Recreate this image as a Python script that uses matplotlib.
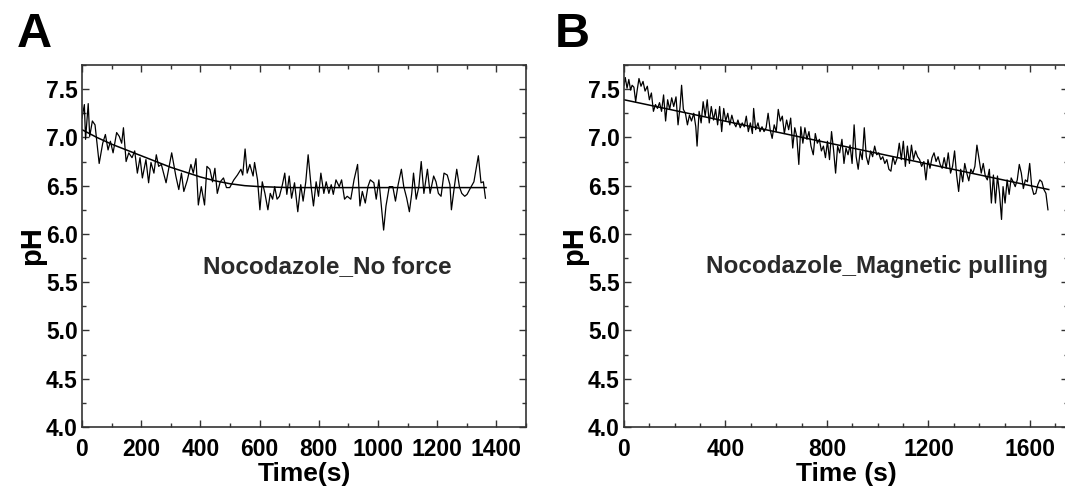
import matplotlib
matplotlib.use("Agg")
import matplotlib.pyplot as plt
from matplotlib.ticker import MultipleLocator

plt.rcParams['font.family'] = ['Liberation Sans', 'DejaVu Sans']
plt.rcParams['font.weight'] = 'bold'

# Panel A: Nocodazole, no force
t_a = [0, 8, 12, 21, 26, 35, 44, 58, 70, 79, 88, 96, 105, 117, 126, 134, 140, 149,
       158, 169, 178, 187, 196, 204, 216, 225, 233, 243, 251, 259, 268, 284, 303,
       317, 327, 336, 344, 356, 368, 376, 385, 393, 403, 414, 422, 432, 441, 449,
       457, 467, 478, 488, 499, 513, 525, 537, 543, 551, 558, 567, 578, 583, 593,
       601, 609, 618, 628, 636, 644, 651, 659, 667, 677, 685, 692, 700, 708, 718,
       729, 739, 747, 756, 764, 774, 782, 791, 799, 807, 817, 825, 834, 842, 849,
       858, 869, 877, 887, 896, 908, 919, 931, 939, 947, 957, 966, 974, 986, 994,
       1003, 1013, 1019, 1027, 1038, 1050, 1059, 1068, 1079, 1087, 1097, 1106,
       1114, 1120, 1129, 1138, 1146, 1155, 1167, 1176, 1188, 1196, 1204, 1213,
       1223, 1234, 1243, 1248, 1258, 1266, 1275, 1283, 1293, 1301, 1313, 1324,
       1339, 1348, 1356, 1363]
ph_a = [7.20, 7.34, 6.98, 7.35, 7.01, 7.17, 7.13, 6.73, 6.94, 7.03, 6.87, 6.96,
        6.84, 7.05, 7.01, 6.94, 7.10, 6.75, 6.84, 6.79, 6.86, 6.63, 6.79, 6.58,
        6.77, 6.53, 6.74, 6.63, 6.82, 6.70, 6.72, 6.53, 6.84, 6.60, 6.46, 6.63,
        6.44, 6.56, 6.72, 6.63, 6.78, 6.30, 6.49, 6.30, 6.70, 6.67, 6.54, 6.68,
        6.42, 6.54, 6.58, 6.48, 6.48, 6.56, 6.61, 6.67, 6.61, 6.88, 6.63, 6.72,
        6.60, 6.74, 6.56, 6.25, 6.54, 6.42, 6.25, 6.42, 6.36, 6.49, 6.36, 6.39,
        6.51, 6.63, 6.41, 6.60, 6.37, 6.53, 6.23, 6.51, 6.34, 6.54, 6.82, 6.49,
        6.29, 6.54, 6.39, 6.63, 6.42, 6.54, 6.42, 6.51, 6.41, 6.56, 6.49, 6.56,
        6.36, 6.39, 6.36, 6.56, 6.72, 6.29, 6.44, 6.32, 6.49, 6.56, 6.53, 6.36,
        6.56, 6.23, 6.04, 6.29, 6.49, 6.49, 6.34, 6.51, 6.67, 6.49, 6.37, 6.23,
        6.42, 6.63, 6.36, 6.49, 6.75, 6.42, 6.67, 6.42, 6.60, 6.54, 6.42, 6.39,
        6.63, 6.61, 6.51, 6.25, 6.49, 6.67, 6.49, 6.42, 6.39, 6.41, 6.48, 6.54,
        6.81, 6.53, 6.54, 6.37]
fit_t_a = [0, 50, 100, 150, 200, 250, 300, 350, 400, 450, 500, 550, 600, 700, 1365]
fit_ph_a = [7.08, 7.00, 6.93, 6.87, 6.81, 6.75, 6.69, 6.64, 6.59, 6.55, 6.52,
            6.50, 6.49, 6.48, 6.48]

# Panel B: Nocodazole, magnetic pulling
t_b = [0, 5, 12, 19, 26, 32, 39, 46, 52, 59, 67, 75, 83, 92, 100, 108, 116, 124,
       132, 140, 148, 156, 164, 172, 180, 188, 196, 205, 213, 221, 227, 234, 242,
       250, 258, 266, 275, 283, 288, 296, 304, 312, 320, 328, 336, 344, 353, 361,
       369, 377, 385, 393, 401, 409, 417, 425, 433, 441, 449, 458, 466, 474, 482,
       490, 498, 506, 511, 519, 528, 536, 544, 552, 560, 568, 576, 584, 592, 600,
       608, 616, 624, 632, 641, 649, 657, 665, 673, 681, 689, 697, 705, 713, 721,
       729, 737, 746, 754, 762, 770, 778, 786, 794, 802, 810, 818, 826, 834, 842,
       850, 859, 867, 875, 883, 891, 899, 907, 915, 923, 931, 939, 947, 955, 963,
       972, 980, 988, 996, 1004, 1012, 1020, 1028, 1036, 1044, 1052, 1060, 1068,
       1077, 1085, 1093, 1101, 1109, 1117, 1125, 1133, 1141, 1149, 1157, 1165,
       1173, 1182, 1190, 1198, 1206, 1214, 1222, 1230, 1238, 1246, 1254, 1262,
       1270, 1278, 1287, 1295, 1303, 1311, 1319, 1327, 1335, 1343, 1351, 1359,
       1367, 1375, 1383, 1391, 1400, 1408, 1416, 1424, 1432, 1440, 1448, 1456,
       1464, 1472, 1480, 1488, 1494, 1502, 1510, 1518, 1526, 1534, 1542, 1550,
       1558, 1566, 1574, 1582, 1590, 1599, 1607, 1615, 1623, 1631, 1639, 1647,
       1655, 1663, 1671]
ph_b = [7.54, 7.62, 7.51, 7.60, 7.49, 7.54, 7.52, 7.37, 7.49, 7.61, 7.53, 7.58,
        7.48, 7.53, 7.39, 7.46, 7.27, 7.34, 7.30, 7.36, 7.27, 7.44, 7.17, 7.39,
        7.29, 7.41, 7.32, 7.42, 7.13, 7.32, 7.54, 7.29, 7.25, 7.13, 7.23, 7.17,
        7.25, 7.11, 6.91, 7.27, 7.15, 7.37, 7.22, 7.39, 7.15, 7.32, 7.18, 7.29,
        7.13, 7.32, 7.06, 7.30, 7.17, 7.25, 7.13, 7.23, 7.15, 7.11, 7.18, 7.10,
        7.15, 7.11, 7.22, 7.06, 7.15, 7.04, 7.30, 7.08, 7.15, 7.06, 7.11, 7.06,
        7.10, 7.25, 7.08, 6.99, 7.13, 7.06, 7.29, 7.17, 7.22, 7.04, 7.18, 7.08,
        7.20, 6.89, 7.10, 7.01, 6.72, 7.11, 6.94, 7.10, 6.98, 7.06, 6.91, 6.82,
        7.04, 6.94, 6.98, 6.86, 6.91, 6.79, 6.96, 6.77, 7.06, 6.87, 6.63, 6.91,
        6.84, 6.98, 6.73, 6.89, 6.82, 6.92, 6.73, 7.13, 6.80, 6.67, 6.86, 6.77,
        7.10, 6.80, 6.72, 6.86, 6.80, 6.91, 6.82, 6.84, 6.77, 6.80, 6.73, 6.77,
        6.67, 6.65, 6.80, 6.72, 6.79, 6.94, 6.77, 6.96, 6.70, 6.91, 6.73, 6.92,
        6.77, 6.86, 6.80, 6.77, 6.70, 6.75, 6.56, 6.77, 6.68, 6.79, 6.84, 6.75,
        6.80, 6.72, 6.68, 6.79, 6.68, 6.84, 6.63, 6.70, 6.86, 6.61, 6.44, 6.67,
        6.54, 6.73, 6.63, 6.55, 6.67, 6.63, 6.70, 6.92, 6.77, 6.63, 6.73, 6.60,
        6.56, 6.67, 6.32, 6.61, 6.32, 6.60, 6.42, 6.15, 6.49, 6.32, 6.56, 6.41,
        6.58, 6.54, 6.49, 6.56, 6.72, 6.63, 6.47, 6.56, 6.54, 6.73, 6.49, 6.41,
        6.42, 6.51, 6.56, 6.54, 6.46, 6.42, 6.25]
fit_t_b = [0, 1674]
fit_ph_b = [7.39, 6.46]

W, H = 1065, 497
fig = plt.figure(figsize=(W / 100, H / 100), dpi=100)
ax_a = fig.add_axes([82 / W, 1 - 427 / H, 444 / W, 362 / H])
ax_b = fig.add_axes([624 / W, 1 - 427 / H, 444 / W, 362 / H])

panels = [
    (ax_a, t_a, ph_a, fit_t_a, fit_ph_a, 1500, 200, 'Time(s)', 'Nocodazole_No force', 409),
    (ax_b, t_b, ph_b, fit_t_b, fit_ph_b, 1750, 400, 'Time (s)', 'Nocodazole_Magnetic pulling', 323),
]
for ax, t, ph, ft, fph, xmax, xmaj, xlab, note, note_x in panels:
    ax.plot(t, ph, color='black', lw=0.9)
    ax.plot(ft, fph, color='black', lw=1.1)
    ax.set_xlim(0, xmax)
    ax.set_ylim(4.0, 7.75)
    ax.xaxis.set_major_locator(MultipleLocator(xmaj))
    ax.xaxis.set_minor_locator(MultipleLocator(100))
    ax.yaxis.set_major_locator(MultipleLocator(0.5))
    ax.yaxis.set_minor_locator(MultipleLocator(0.25))
    ax.set_yticks([4.0, 4.5, 5.0, 5.5, 6.0, 6.5, 7.0, 7.5])
    ax.set_yticklabels(['4.0', '4.5', '5.0', '5.5', '6.0', '6.5', '7.0', '7.5'])
    ax.tick_params(which='both', direction='in', top=True, right=True,
                   color='#333333', labelsize=16.5, width=1)
    ax.tick_params(which='major', length=5)
    ax.tick_params(which='minor', length=3)
    ax.tick_params(axis='x', pad=8)
    ax.tick_params(axis='y', pad=3)
    for s in ax.spines.values():
        s.set_linewidth(1.2)
        s.set_color('#333333')
    ax.set_xlabel(xlab, fontsize=19, fontweight='bold', labelpad=1)
    ax.set_ylabel('pH', fontsize=21, fontweight='bold', labelpad=0)
    ax.text(note_x, 5.66, note, fontsize=17.5, fontweight='bold', color='#2a2a2a',
            va='center', ha='left')

fig.text(17 / W, 1 - 47 / H, 'A', fontsize=35, fontweight='bold', va='baseline')
fig.text(555 / W, 1 - 47 / H, 'B', fontsize=35, fontweight='bold', va='baseline')

fig.savefig('out.png', dpi=100)
